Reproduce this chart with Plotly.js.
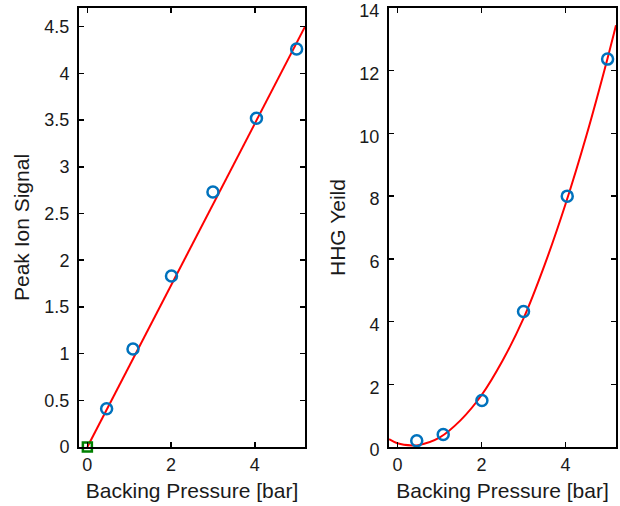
<!DOCTYPE html>
<html>
<head>
<meta charset="utf-8">
<script src="https://cdn.plot.ly/plotly-3.0.1.min.js"></script>
<style>html,body{margin:0;padding:0;background:#fff;}#chart{width:620px;height:506px;}</style>
</head>
<body>
<div id="chart"></div>
<script>
const pressure = [0.46, 1.09, 2.01, 3.0, 4.04, 5.0];
const ionSignal = [0.41, 1.05, 1.83, 2.73, 3.52, 4.26];
const hhgYield = [0.2, 0.4, 1.48, 4.32, 8.0, 12.37];

// Linear fit line (left panel)
const ionFitX = [0, 5.2];
const ionFitY = [0, 4.5];

// Origin marker (left panel)
const originX = [0];
const originY = [0];

// Quadratic fit curve (right panel)
const hhgFitX = [-0.2, 0, 0.35, 0.5, 1, 1.5, 2, 2.5, 3, 3.5, 4, 4.5, 5, 5.2];
const hhgFitY = [0.25, 0.12, 0.05, 0.06, 0.3, 0.85, 1.65, 2.75, 4.1, 5.8, 7.75, 9.95, 12.4, 13.45];

const xTicks = [0, 2, 4];
const ionTicks = [0, 0.5, 1, 1.5, 2, 2.5, 3, 3.5, 4, 4.5];
const hhgTicks = [0, 2, 4, 6, 8, 10, 12, 14];

const blue = '#0072BD';
const red = '#FF0000';
const green = '#008000';

const traces = [
  {x: ionFitX, y: ionFitY, mode: 'lines', line: {color: red, width: 2}, xaxis: 'x', yaxis: 'y', hoverinfo: 'skip'},
  {x: pressure, y: ionSignal, mode: 'markers', marker: {symbol: 'circle-open', size: 11, color: blue, line: {width: 2.5, color: blue}}, xaxis: 'x', yaxis: 'y'},
  {x: originX, y: originY, mode: 'markers', marker: {symbol: 'square-open', size: 9, color: green, line: {width: 2.5, color: green}}, xaxis: 'x', yaxis: 'y', cliponaxis: false},
  {x: hhgFitX, y: hhgFitY, mode: 'lines', line: {color: red, width: 2, shape: 'spline'}, xaxis: 'x2', yaxis: 'y2', hoverinfo: 'skip'},
  {x: pressure, y: hhgYield, mode: 'markers', marker: {symbol: 'circle-open', size: 11, color: blue, line: {width: 2.5, color: blue}}, xaxis: 'x2', yaxis: 'y2'}
];

const font = {family: 'Liberation Sans, Arial, sans-serif', size: 18, color: '#1a1a1a'};
const titleFont = {family: 'Liberation Sans, Arial, sans-serif', size: 21, color: '#1a1a1a'};

function xAxis(domain, anchor) {
  return {
    domain: domain, anchor: anchor, range: [-0.2, 5.2],
    tickvals: xTicks, ticktext: xTicks.map(String),
    ticks: 'inside', ticklen: 5, tickwidth: 1.5, tickcolor: '#000',
    showline: true, linecolor: '#000', linewidth: 2, mirror: 'ticks',
    showgrid: false, zeroline: false, tickfont: font, ticklabeloverflow: 'allow',
    title: {text: 'Backing Pressure [bar]', font: titleFont, standoff: 10}
  };
}
function yAxis(domain, anchor, range, ticks, title, standoff, shift) {
  return {
    domain: domain, anchor: anchor, range: range,
    tickvals: ticks, ticktext: ticks.map(String),
    ticks: 'inside', ticklen: 5, tickwidth: 1.5, tickcolor: '#000',
    showline: true, linecolor: '#000', linewidth: 2, mirror: 'ticks',
    showgrid: false, zeroline: false, tickfont: font, ticklabeloverflow: 'allow',
    ticklabelstandoff: 4, ticklabelshift: shift,
    title: {text: title, font: titleFont, standoff: standoff}
  };
}

const layout = {
  width: 620, height: 506,
  margin: {l: 0, r: 0, t: 8, b: 59},
  paper_bgcolor: '#fff', plot_bgcolor: '#fff',
  showlegend: false,
  xaxis: xAxis([79/620, 305/620], 'y'),
  yaxis: yAxis([0, 1], 'x', [0, 4.7], ionTicks, 'Peak Ion Signal', 9, 0),
  xaxis2: xAxis([389/620, 616/620], 'y2'),
  yaxis2: yAxis([0, 1], 'x2', [0, 14], hhgTicks, 'HHG Yeild', 8, 3)
};

Plotly.newPlot('chart', traces, layout, {displayModeBar: false, staticPlot: true});
</script>
</body>
</html>
